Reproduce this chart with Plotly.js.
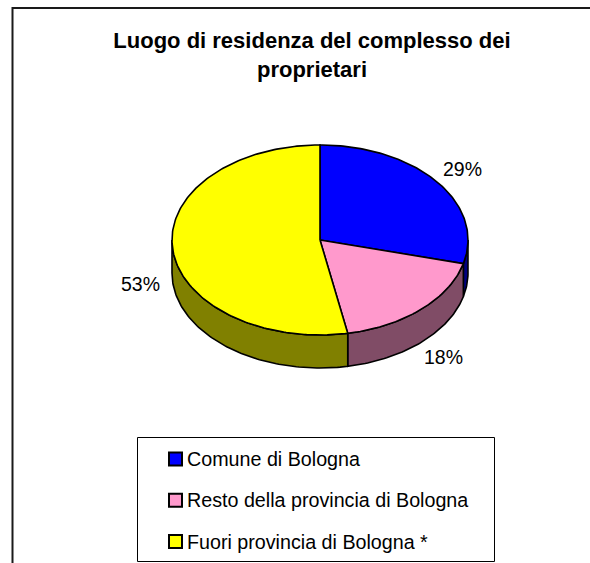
<!DOCTYPE html>
<html>
<head>
<meta charset="utf-8">
<script src="https://cdn.plot.ly/plotly-3.0.1.min.js"></script>
<style>html,body{margin:0;padding:0;background:#fff;}#chart{width:590px;height:563px;}</style>
</head>
<body>
<div id="chart"></div>
<script>
// ---- data ----
const categories = ["Comune di Bologna", "Resto della provincia di Bologna", "Fuori provincia di Bologna *"];
const values = [29, 18, 53];
const topColors = ["#0000FF", "#FF99CC", "#FFFF00"];
const sideColors = ["#000080", "#804C66", "#808000"];
const titleText = "Luogo di residenza del complesso dei<br>proprietari";

// ---- geometry (layout, in pixel units of hidden axes) ----
const W = 590, H = 563;
const cx = 320, cy = 240, rx = 148, ry = 95, depth = 33;
const FONT = "Liberation Sans, Arial, sans-serif";

const total = values.reduce((a, b) => a + b, 0);
function pt(deg, dy) {
  const r = deg * Math.PI / 180;
  return [cx + rx * Math.sin(r), cy - ry * Math.cos(r) + (dy || 0)];
}
function arc(a, b, dy) {
  const pts = [];
  const n = Math.max(2, Math.ceil(Math.abs(b - a) / 1));
  for (let i = 0; i <= n; i++) pts.push(pt(a + (b - a) * i / n, dy));
  return pts;
}

const traces = [];
const tops = [];
const annotations = [];
let acc = 0;
values.forEach((v, i) => {
  const a = acc / total * 360;
  acc += v;
  const b = acc / total * 360;
  // side wall (visible front half 90..270)
  const s0 = Math.max(a, 90), s1 = Math.min(b, 270);
  if (s1 > s0) {
    const upper = arc(s0, s1, 0);
    const lower = arc(s1, s0, depth);
    const poly = upper.concat(lower);
    poly.push(upper[0]);
    traces.push({
      type: "scatter", mode: "lines",
      x: poly.map(p => p[0]), y: poly.map(p => p[1]),
      fill: "toself", fillcolor: sideColors[i],
      line: { color: "#000", width: 1.6 },
      hoverinfo: "skip", showlegend: false
    });
  }
  // top face
  const face = [[cx, cy]].concat(arc(a, b, 0));
  face.push([cx, cy]);
  tops.push({
    type: "scatter", mode: "lines",
    x: face.map(p => p[0]), y: face.map(p => p[1]),
    fill: "toself", fillcolor: topColors[i],
    line: { color: "#000", width: 1.6 },
    hoverinfo: "skip", showlegend: false
  });
  // percentage label
  const mid = (a + b) / 2;
  const k = 1.22;
  const r = mid * Math.PI / 180;
  const lx = cx + rx * k * Math.sin(r);
  const ly = cy - ry * k * Math.cos(r) + (Math.cos(r) < 0 ? depth : 0);
  annotations.push({
    x: lx, y: ly, xref: "x", yref: "y", showarrow: false,
    text: Math.round(v / total * 100) + "%",
    font: { family: FONT, size: 19.5, color: "#000" },
    xanchor: "center", yanchor: "middle"
  });
});

// ---- legend (drawn manually) ----
const shapes = [
  { type: "rect", xref: "x", yref: "y", x0: 12.5, y0: 8, x1: 640, y1: 640,
    line: { color: "#1a1a1a", width: 2 }, fillcolor: "rgba(0,0,0,0)", layer: "below" },
  { type: "rect", xref: "x", yref: "y", x0: 137.5, y0: 437.5, x1: 494.5, y1: 561.5,
    line: { color: "#000", width: 1 }, fillcolor: "rgba(0,0,0,0)", layer: "below" }
];
const legTop = 459, legStep = 41.3;
categories.forEach((c, i) => {
  const yc = legTop + i * legStep;
  shapes.push({ type: "rect", xref: "x", yref: "y", x0: 169, x1: 182, y0: yc - 6.5, y1: yc + 6.5,
    line: { color: "#000", width: 2 }, fillcolor: topColors[i], layer: "above" });
  annotations.push({
    x: 184.5, y: yc, xref: "x", yref: "y", showarrow: false, text: c,
    font: { family: FONT, size: 19.7, color: "#000" }, xanchor: "left", yanchor: "middle"
  });
});

const layout = {
  width: W, height: H, autosize: false,
  margin: { l: 0, r: 0, t: 0, b: 0, pad: 0 },
  paper_bgcolor: "#fff", plot_bgcolor: "#fff",
  showlegend: false,
  title: {
    text: "<b>" + titleText + "</b>",
    font: { family: FONT, size: 22, color: "#000" },
    x: 312 / W, xanchor: "center", xref: "paper",
    y: 1 - 48 / H, yanchor: "top", yref: "container"
  },
  xaxis: { range: [0, W], visible: false, fixedrange: true },
  yaxis: { range: [H, 0], visible: false, fixedrange: true },
  shapes: shapes,
  annotations: annotations
};

Plotly.newPlot("chart", traces.concat(tops), layout, { staticPlot: true, displayModeBar: false });
</script>
</body>
</html>
